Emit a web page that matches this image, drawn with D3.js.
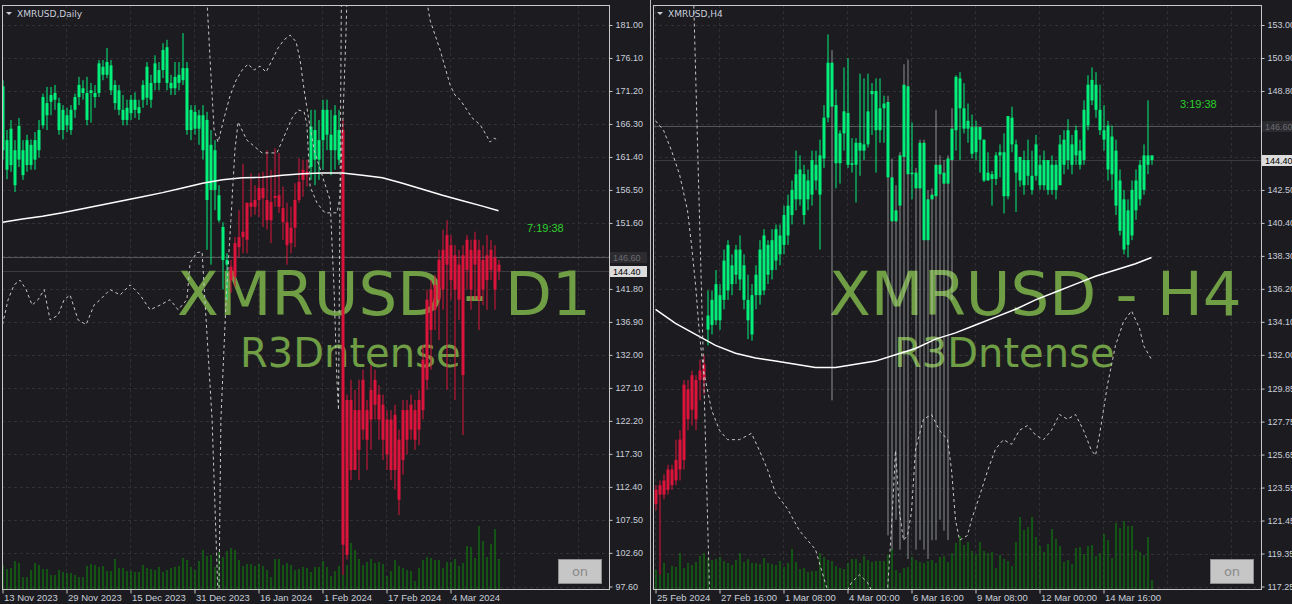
<!DOCTYPE html>
<html>
<head>
<meta charset="utf-8">
<script src="https://cdn.jsdelivr.net/npm/d3@7/dist/d3.min.js"></script>
<style>
body { margin: 0; background: #1c1c20; }
</style>
</head>
<body>
<svg id="chart" width="1292" height="604"></svg>
<script>
// ---- daily panel data ----
var dailyTitle = "XMRUSD,Daily";
var dailyDateLabels = ["13 Nov 2023", "29 Nov 2023", "15 Dec 2023", "31 Dec 2023", "16 Jan 2024", "1 Feb 2024", "17 Feb 2024", "4 Mar 2024"];
var dailyPriceTicks = [181.00, 176.10, 171.20, 166.30, 161.40, 156.50, 151.60, 146.70, 141.80, 136.90, 132.00, 127.10, 122.20, 117.30, 112.40, 107.50, 102.60, 97.60];
// [open, high, low, close]
var dailyOHLC = [
  [162.4,172.8,161.0,171.9],[163.9,165.4,158.1,159.5],[160.2,166.9,159.2,165.6],[162.4,163.9,156.2,157.2],[161.0,167.2,159.9,166.0],
  [162.4,163.9,158.0,158.7],[160.2,164.7,159.2,163.9],[163.2,164.0,159.5,160.2],[161.0,165.1,159.5,163.9],[162.4,166.9,161.3,165.4],
  [166.1,170.8,165.6,170.3],[167.6,171.8,165.4,169.4],[169.6,171.8,167.6,170.6],[169.9,172.1,168.4,170.9],[169.4,170.2,164.7,165.4],
  [165.4,169.1,164.0,168.4],[166.1,168.7,165.1,167.6],[168.4,169.1,164.7,165.4],[168.4,170.8,167.2,170.3],[170.3,173.3,169.1,172.1],
  [171.6,172.8,169.9,170.9],[170.9,173.3,166.1,166.9],[170.9,172.4,166.5,171.3],[170.3,172.1,168.7,170.9],[170.9,175.8,170.3,175.3],
  [174.8,175.8,172.8,173.6],[173.6,177.6,173.1,175.5],[175.0,175.8,170.6,171.3],[172.1,172.8,168.4,169.4],[171.3,172.1,167.6,168.4],
  [168.4,170.6,166.1,166.9],[166.9,169.9,166.1,168.7],[167.9,170.6,166.9,169.9],[169.9,171.0,167.2,168.4],[168.8,169.9,166.9,167.9],
  [169.9,172.8,168.7,172.1],[170.2,175.5,169.1,174.8],[172.4,173.6,168.7,169.9],[172.4,176.5,171.3,175.3],[174.3,175.5,171.3,172.4],
  [174.3,178.3,173.1,177.3],[177.7,178.8,171.3,172.4],[172.4,173.6,170.6,171.6],[171.6,175.5,170.6,173.3],[173.6,175.5,171.3,172.4],
  [172.8,179.8,172.1,174.6],[174.6,175.5,164.7,165.4],[165.4,169.1,163.9,168.4],[168.1,169.1,164.7,165.6],[165.6,168.4,163.2,167.6],
  [167.6,169.1,161.0,162.4],[166.9,168.1,147.6,155.0],[163.2,165.4,145.4,156.5],[156.5,163.9,153.5,162.4],[155.7,157.2,151.7,152.0],
  [151.0,151.7,141.7,146.1],[146.1,147.1,140.2,145.4],[145.1,146.1,141.2,143.1],[143.6,149.5,142.1,148.6],[148.0,153.5,146.5,149.5],
  [149.5,160.4,147.1,150.3],[149.1,154.6,147.1,154.6],[154.6,159.0,152.5,154.0],[154.0,157.2,152.8,155.0],[155.0,159.0,152.5,156.8],
  [156.8,159.2,151.0,155.3],[155.0,162.4,150.6,152.0],[152.0,159.5,148.6,154.7],[155.3,162.7,154.0,155.6],[155.7,162.0,153.1,154.0],
  [153.8,157.0,149.1,151.7],[151.7,154.6,145.4,148.3],[148.6,154.0,147.1,150.9],[150.9,157.5,148.0,155.0],[155.0,161.2,154.6,157.7],
  [158.0,161.0,155.5,159.5],[159.2,161.0,157.0,158.7],[159.9,168.4,158.0,165.9],[165.4,168.4,157.2,161.0],[161.0,166.9,158.0,163.9],
  [163.9,169.9,159.5,168.4],[168.4,169.9,162.4,164.7],[164.7,168.4,158.7,162.4],[162.4,169.1,159.5,167.6],[161.0,168.4,160.2,165.4],
  [165.4,166.9,99.3,103.8],[102.3,126.1,101.6,125.3],[125.3,128.3,113.4,114.9],[114.9,126.8,114.9,123.8],[123.8,128.3,113.4,117.9],
  [120.9,129.8,119.4,128.3],[123.8,125.3,114.9,119.4],[122.4,130.5,117.9,126.8],[124.6,129.8,122.4,128.3],[126.1,127.5,119.4,122.4],
  [124.6,126.1,116.4,119.4],[122.4,123.8,114.9,117.2],[114.9,123.8,113.4,122.4],[123.1,124.6,112.0,114.9],[119.4,120.9,108.2,110.5],
  [116.4,125.3,114.2,123.8],[123.8,125.3,117.2,119.4],[120.9,126.1,119.4,124.6],[123.8,125.3,117.9,119.4],[120.9,126.8,118.6,125.3],
  [123.8,133.5,122.4,131.3],[128.3,141.7,126.8,140.2],[135.7,143.1,129.8,141.7],[138.7,143.9,135.7,142.4],[140.2,147.6,134.2,146.1],
  [141.7,150.6,138.7,147.6],[145.4,152.0,126.8,149.8],[148.3,149.8,140.2,143.1],[146.8,148.3,125.3,141.7],[140.2,147.6,137.2,145.4],
  [146.8,148.3,120.1,129.0],[144.6,149.8,141.7,149.1],[147.6,149.1,138.7,141.7],[145.4,150.3,140.2,149.1],[147.6,149.1,135.7,140.2],
  [141.7,148.3,139.4,146.1],[146.8,149.8,138.7,143.1],[144.6,149.1,143.1,147.6],[146.5,148.3,138.7,141.7],[145.4,146.1,143.1,144.4]
];
var dailyRedRanges = [[57, 76], [85, 124]];
var dailyVolume = [
  24,20,21,28,26,12,12,19,26,24, 20,20,14,14,19,17,16,16,14,12, 12,23,25,24,22,23,18,18,30,21,
  21,18,18,17,17,24,21,20,19,22, 17,19,21,22,23,31,29,22,19,28, 39,33,34,22,37,32,38,41,39,29,
  23,25,25,23,25,23,19,12,30,30, 24,26,24,19,20,22,21,17,22,22, 28,22,13,18,23,14,24,46,39,30,
  24,27,30,26,27,25,13,18,29,23, 21,19,18,8,21,29,32,31,29,29, 21,27,27,30,23,26,43,42,31,63,
  48,32,45,60,30
];
var dailyMABars = [0,5,10,15,20,25,30,35,40,45,50,55,60,65,70,75,80,85,90,95,100,105,110,115,120,124];
var dailyMA = [151.7,152.2,152.6,153.1,153.7,154.3,154.9,155.5,156.1,156.8,157.5,158.0,158.3,158.4,158.7,158.9,159.0,159.0,158.7,158.3,157.5,156.6,155.7,154.9,154.1,153.4];
// dashed channel lines as [bar, price]
var dailyBand1 = [[0,136.5],[1.4,140.2],[2.9,142.4],[4.4,143.1],[5.9,141.7],[7.4,139.4],[8.9,140.2],[10.4,141.7],[11.9,137.2],[13.9,137.9],[15.4,140.2],[16.9,140.9],[18.9,137.2],[20.9,136.5],[22.9,139.4],[24.4,140.2],[26.9,141.7],[29.4,140.9],[31.9,142.4],[34.4,140.9],[36.9,138.7],[39.4,139.4],[41.9,140.2],[43.9,138.7],[46.1,140.2],[46.9,145.7],[48.6,147.2],[49.9,147.3],[50.6,140.2],[52.4,122.4],[53.9,95.6]];
var dailyBand2 = [[54.1,95.6],[54.6,122.4],[55.9,140.2],[57.1,152.0],[58.1,162.4],[58.9,166.6],[61.1,163.9],[64.9,162.0],[68.6,162.0],[71.1,165.4],[72.4,167.2],[73.9,168.4],[75.4,168.1],[76.1,166.2],[76.9,157.0],[78.6,154.6],[80.6,153.1],[83.6,153.1],[84.4,155.5],[85.1,166.9],[85.9,180.3],[86.4,192.1]];
var dailyBand3 = [[50.6,190.7],[51.9,175.8],[52.9,165.4],[53.9,163.6],[55.4,167.2],[56.9,170.5],[58.4,172.8],[59.9,174.3],[61.4,175.2],[62.9,174.3],[64.4,174.9],[65.9,174.0],[67.4,175.8],[68.9,177.6],[70.4,178.8],[71.9,179.5],[73.4,178.5],[74.4,175.8],[75.4,171.4],[76.4,167.6],[77.9,162.4],[79.9,158.7],[81.9,155.0],[82.9,141.6],[83.6,128.3],[84.0,123.8],[84.9,199.6]];
var dailyBand4 = [[105.6,186.2],[106.9,181.7],[109.4,177.3],[111.9,172.1],[113.1,170.6],[114.4,169.9],[116.1,168.4],[117.4,167.2],[119.4,166.2],[120.9,164.7],[121.9,163.6],[122.9,164.2],[123.9,163.9]];

// ---- H4 panel data ----
var h4Title = "XMRUSD,H4";
var h4DateLabels = ["25 Feb 2024", "27 Feb 16:00", "1 Mar 08:00", "4 Mar 00:00", "6 Mar 16:00", "9 Mar 08:00", "12 Mar 00:00", "14 Mar 16:00"];
var h4PriceTicks = [153.00, 150.90, 148.80, 146.70, 144.60, 142.50, 140.40, 138.30, 136.20, 134.10, 132.00, 129.85, 127.75, 125.65, 123.55, 121.45, 119.35, 117.25];
var h4OHLC = [
  [122.5,123.7,122.1,123.4],[123.1,124.0,118.0,123.7],[123.1,124.4,122.8,124.0],[123.4,125.0,123.1,124.7],[124.7,125.0,123.4,123.7],
  [124.0,126.6,123.7,125.3],[124.7,127.2,124.0,126.6],[125.3,130.4,124.7,130.1],[129.8,130.4,127.2,127.9],[128.5,131.0,127.5,130.7],
  [130.4,130.7,127.2,127.9],[130.4,131.7,129.1,131.0],[130.4,132.0,129.5,131.4],[133.6,136.1,132.6,134.5],[133.9,136.1,133.3,135.5],
  [134.2,137.4,133.9,136.5],[135.8,136.5,133.6,134.2],[135.5,138.7,134.9,138.0],[136.1,139.3,135.5,139.0],[137.7,138.4,135.8,136.5],
  [137.1,139.0,136.5,138.7],[138.7,139.6,136.1,136.8],[137.7,138.4,134.9,135.5],[135.5,137.1,133.0,134.2],[133.3,136.5,132.9,135.8],
  [135.8,137.7,134.9,137.1],[135.8,139.3,135.2,138.7],[136.1,140.0,135.8,139.6],[139.0,139.3,136.5,137.1],[137.4,140.0,136.8,139.3],
  [138.0,140.3,137.4,140.0],[139.6,140.3,137.7,138.4],[139.0,141.5,138.4,140.9],[139.6,142.2,139.0,141.5],[140.9,143.1,140.3,142.5],
  [141.9,145.0,141.2,143.5],[141.9,144.7,141.5,143.8],[143.5,144.1,140.3,140.9],[141.9,143.8,141.2,143.1],[142.2,145.0,141.5,144.4],
  [144.1,145.0,142.5,143.1],[142.2,145.7,138.7,144.7],[144.5,147.9,143.9,147.1],[147.1,152.4,146.8,150.6],[150.6,151.4,129.1,147.8],
  [147.9,148.9,142.6,144.2],[144.2,146.3,142.9,146.1],[146.1,150.3,145.0,147.5],[147.4,150.9,143.9,144.1],[144.1,145.8,143.6,144.2],
  [144.1,145.8,141.7,145.5],[145.5,149.9,143.4,145.0],[145.0,149.6,144.4,145.4],[145.4,149.9,145.2,147.5],[148.6,149.3,146.0,148.8],
  [148.8,149.6,143.6,146.3],[146.3,149.6,145.5,147.7],[147.7,148.5,145.5,148.0],[148.1,148.5,120.5,143.3],[143.3,144.5,119.6,140.5],
  [140.5,142.8,121.5,141.2],[141.5,144.9,119.6,144.7],[144.6,150.5,120.2,149.2],[149.1,150.8,119.0,143.5],[143.5,146.8,141.9,143.6],
  [143.6,143.9,119.6,142.6],[142.6,145.7,120.2,145.5],[145.5,145.7,119.6,139.3],[139.3,142.5,119.0,141.9],[141.9,142.6,120.2,142.2],
  [142.1,147.6,120.2,144.1],[144.1,144.7,121.5,143.5],[143.6,144.4,120.8,142.9],[142.9,144.7,120.2,144.5],[144.4,147.7,135.5,146.4],
  [146.3,149.8,145.0,149.7],[149.6,150.0,144.4,147.7],[147.7,149.3,146.1,146.4],[146.4,148.0,145.5,146.9],[146.5,147.3,144.5,144.8],
  [144.9,146.9,144.4,146.5],[146.5,146.5,143.6,145.7],[145.7,145.7,143.0,143.1],[143.1,144.9,143.1,143.6],[143.5,143.7,141.5,143.2],
  [143.2,144.9,142.8,144.7],[144.7,145.4,143.3,144.9],[144.9,146.1,141.0,142.1],[142.1,147.2,141.9,147.2],[147.1,147.8,144.9,145.4],
  [145.4,145.7,141.1,143.6],[143.1,144.6,142.7,144.6],[142.8,145.0,142.2,144.4],[144.4,145.7,142.8,143.4],[143.4,145.0,142.2,142.5],
  [143.4,146.0,143.1,145.4],[144.1,144.7,142.5,142.8],[142.8,145.0,142.5,144.4],[144.4,144.4,142.2,142.5],[142.5,144.7,142.2,144.1],
  [144.1,144.4,141.9,142.5],[142.8,146.0,142.8,145.4],[144.1,146.3,143.5,145.7],[144.4,147.0,143.8,146.3],[145.4,146.0,143.5,144.1],
  [144.7,146.6,144.1,146.3],[145.0,145.7,143.8,144.1],[144.4,148.2,144.1,147.6],[146.6,149.8,146.3,149.2],[148.2,150.3,147.9,149.5],
  [149.2,150.0,147.1,147.6],[147.6,149.2,146.0,146.3],[146.3,147.9,145.0,145.7],[146.6,146.9,143.1,143.8],[145.9,146.6,142.5,143.5],
  [145.0,145.7,140.9,141.5],[143.1,143.8,139.6,139.9],[141.9,142.5,138.4,138.7],[139.0,141.9,138.2,141.2],[139.6,143.1,139.3,142.5],
  [141.2,143.8,140.6,143.1],[141.9,144.4,141.5,144.1],[142.5,145.4,142.2,144.7],[144.1,148.2,143.5,144.7],[144.7,144.7,144.1,144.4]
];
var h4RedRanges = [[0, 12]];
// bars whose long wicks print in a pale tone
var h4PaleWicks = [44, 58, 59, 60, 61, 62, 63, 65, 66, 67, 68, 69, 70, 71, 72, 73, 74];
var h4Volume = [
  19,14,26,16,23,22,36,21,26,24, 27,33,36,31,29,30,32,28,26,24, 29,36,27,30,26,26,25,31,26,25,
  24,28,22,26,40,27,20,21,17,18, 18,36,32,29,28,23,21,20,26,30, 30,26,33,29,27,28,28,28,34,40,
  19,16,21,22,32,29,27,26,28,29, 26,32,33,27,36,46,53,44,47,38, 35,47,38,36,37,21,34,30,28,23,
  47,72,59,62,72,52,43,37,45,60, 50,43,27,29,25,41,42,35,43,44, 33,36,55,49,31,66,61,68,63,63,
  39,37,34,52,9
];
var h4MABars = [0,5,10,15,20,25,30,35,40,45,50,55,60,65,70,75,80,85,90,95,100,105,110,115,120,124];
var h4MA = [134.9,134.0,133.3,132.6,132.1,131.8,131.6,131.4,131.2,131.2,131.4,131.6,132.0,132.4,133.0,133.4,133.9,134.4,134.9,135.5,136.0,136.5,137.0,137.4,137.8,138.2];
var h4BandA = [[0,146.9],[2,146.3],[4,145.0],[6,143.5],[8,141.2],[9,139.0],[10,136.5],[11,133.3],[12,131.0],[14,128.5],[16,127.2],[18,126.6],[21,126.6],[24,127.0],[26,125.9],[28,124.7],[30,123.2],[33,122.2],[36,120.8],[38,120.2],[40,119.6],[43,117.0],[45,115],[47,116.5],[49,117.5],[51,118.0],[53,117.5],[55,116.5],[57,115],[58,117],[59,121],[60,125.9],[61,122.0],[62,120.2],[63,120.5],[64,122.0],[65,126.0],[67,127.9],[69,128.2],[71,127.2],[73,126.6],[74,124.7],[75,121.5],[76,120.2],[78,120.5],[79,121.5],[81,123.0],[83,124.6],[85,126.0],[87,126.6],[89,126.3],[91,127.2],[93,127.5],[95,126.9],[97,126.6],[99,127.2],[101,128.2],[103,127.9],[105,128.2],[107,127.2],[109,125.9],[110,125.6],[111,126.9],[113,130.1],[115,132.6],[117,134.1],[119,134.8],[121,133.7],[122,132.6],[124,131.7]];
var h4BandB = [[9.5,155],[13.5,117]];

var panels = [
  { name: "d1", title: dailyTitle, left: 2, right: 609, barX0: 2.5,
    dates: dailyDateLabels, ticks: dailyPriceTicks, ohlc: dailyOHLC, red: dailyRedRanges, pale: [],
    volume: dailyVolume, maBars: dailyMABars, ma: dailyMA,
    bands: [dailyBand1, dailyBand2, dailyBand3, dailyBand4],
    refPrice: 146.60, bid: 144.40, timer: "7:19:38", timerPrice: 150.9, timerX: 527,
    mark: "XMRUSD - D1", markX: 177, subX: 240 },
  { name: "h4", title: h4Title, left: 653, right: 1261, barX0: 655.5,
    dates: h4DateLabels, ticks: h4PriceTicks, ohlc: h4OHLC, red: h4RedRanges, pale: h4PaleWicks,
    volume: h4Volume, maBars: h4MABars, ma: h4MA,
    bands: [h4BandA, h4BandB],
    refPrice: 146.60, bid: 144.40, timer: "3:19:38", timerPrice: 148.0, timerX: 1180,
    mark: "XMRUSD - H4", markX: 829, subX: 894 }
];

var FONT = "Liberation Sans, Arial, sans-serif";
var WM_FONT = "DejaVu Sans, Verdana, sans-serif";

var svg = d3.select("#chart");
var plotTop = 5, plotBottom = 589;

svg.append("rect").attr("width", 1292).attr("height", 604).attr("fill", "#1c1c20");

panels.forEach(drawPanel);

// separator between the two charts
svg.append("line").attr("x1", 650.5).attr("x2", 650.5).attr("y1", 0).attr("y2", 604)
  .attr("stroke", "#bdbdbd").attr("stroke-width", 1);

function isRed(p, i) {
  return p.red.some(function(r) { return i >= r[0] && i <= r[1]; });
}

function drawPanel(p) {
  var g = svg.append("g");
  var x = d3.scaleLinear().domain([0, 144]).range([p.barX0, p.barX0 + 576]);
  var y = d3.scaleLinear().domain([p.ticks[0], p.ticks[p.ticks.length - 1]]).range([25, 586.5]);
  var v = d3.scaleLinear().domain([0, 100]).range([plotBottom, plotBottom - 100]);

  svg.append("clipPath").attr("id", "clip-" + p.name).append("rect")
    .attr("x", p.left).attr("y", plotTop).attr("width", p.right - p.left).attr("height", plotBottom - plotTop);

  // grid
  var grid = g.append("g").attr("stroke", "#303036").attr("stroke-dasharray", "3,3");
  grid.selectAll(".hg").data(p.ticks).enter().append("line")
    .attr("x1", p.left).attr("x2", p.right)
    .attr("y1", function(d) { return Math.round(y(d)) + 0.5; })
    .attr("y2", function(d) { return Math.round(y(d)) + 0.5; });
  grid.selectAll(".vg").data(d3.range(0, 145, 16)).enter().append("line")
    .attr("x1", function(d) { return x(d); }).attr("x2", function(d) { return x(d); })
    .attr("y1", plotTop).attr("y2", plotBottom);

  var plot = g.append("g").attr("clip-path", "url(#clip-" + p.name + ")");

  // reference and bid lines
  plot.append("line").attr("x1", p.left).attr("x2", p.right)
    .attr("y1", Math.round(y(p.refPrice)) + 0.5).attr("y2", Math.round(y(p.refPrice)) + 0.5)
    .attr("stroke", "#55555a");
  plot.append("line").attr("x1", p.left).attr("x2", p.right)
    .attr("y1", Math.round(y(p.bid)) + 0.5).attr("y2", Math.round(y(p.bid)) + 0.5)
    .attr("stroke", "#3a3a3f");

  // watermark
  plot.append("text").attr("x", p.markX).attr("y", 315)
    .attr("font-family", WM_FONT).attr("font-size", 61).attr("fill", "#6f9e45")
    .text(p.mark);
  plot.append("text").attr("x", p.subX).attr("y", 367)
    .attr("font-family", WM_FONT).attr("font-size", 40).attr("fill", "#6f9e45")
    .text("R3Dntense");

  // volume
  plot.selectAll(".vol").data(p.volume).enter().append("rect")
    .attr("x", function(d, i) { return x(i); })
    .attr("y", function(d) { return v(d); })
    .attr("width", 1)
    .attr("height", function(d) { return plotBottom - v(d); })
    .attr("fill", "#0b8c0b");

  // candles
  function col(i) { return isRed(p, i) ? "#dc143c" : "#00f07a"; }
  var c = plot.selectAll(".candle").data(p.ohlc).enter().append("g");
  c.append("line")
    .attr("x1", function(d, i) { return x(i) + 0.5; })
    .attr("x2", function(d, i) { return x(i) + 0.5; })
    .attr("y1", function(d) { return y(d[1]); })
    .attr("y2", function(d) { return y(d[2]); })
    .attr("stroke", function(d, i) { return p.pale.indexOf(i) >= 0 ? "#d6dcd6" : col(i); })
    .attr("stroke-opacity", function(d, i) { return p.pale.indexOf(i) >= 0 ? 0.6 : 1; });
  c.append("rect")
    .attr("x", function(d, i) { return x(i) - 1; })
    .attr("y", function(d) { return y(Math.max(d[0], d[3])); })
    .attr("width", 3)
    .attr("height", function(d) { return Math.max(1, Math.abs(y(d[0]) - y(d[3]))); })
    .attr("fill", function(d, i) { return col(i); });

  // moving average
  var maLine = d3.line().x(function(d, i) { return x(p.maBars[i]); }).y(function(d) { return y(d); });
  plot.append("path").attr("d", maLine(p.ma)).attr("fill", "none")
    .attr("stroke", "#ffffff").attr("stroke-width", 1.5);

  // dashed channel lines
  var bandLine = d3.line().x(function(d) { return x(d[0]); }).y(function(d) { return y(d[1]); });
  p.bands.forEach(function(b) {
    plot.append("path").attr("d", bandLine(b)).attr("fill", "none")
      .attr("stroke", "#c8c8c8").attr("stroke-dasharray", "3,3");
  });

  // timer text
  plot.append("text").attr("x", p.timerX).attr("y", y(p.timerPrice) + 4)
    .attr("font-family", FONT).attr("font-size", 11).attr("fill", "#2ccf2c").text(p.timer);

  // frame
  g.append("rect").attr("x", p.left + 0.5).attr("y", plotTop + 0.5)
    .attr("width", p.right - p.left).attr("height", plotBottom - plotTop)
    .attr("fill", "none").attr("stroke", "#c8c8c8");

  // price axis (labels sitting under a price box are left out, as the box hides them)
  function hidden(d) {
    return Math.abs(y(d) - y(p.refPrice)) < 9 || Math.abs(y(d) - y(p.bid)) < 9;
  }
  var ay = g.append("g").attr("transform", "translate(" + (p.right + 0.5) + ",0)")
    .call(d3.axisRight(y).tickValues(p.ticks).tickSize(3).tickPadding(3)
      .tickFormat(function(d) { return hidden(d) ? "" : d3.format(".2f")(d); }));
  ay.select(".domain").remove();
  ay.selectAll("line").attr("stroke", "#c8c8c8");
  ay.selectAll("text").attr("fill", "#c9ceda").attr("font-size", 9)
    .attr("font-family", FONT);

  // date axis
  var ax = g.append("g").attr("transform", "translate(0," + (plotBottom + 0.5) + ")")
    .call(d3.axisBottom(x).tickValues(d3.range(0, p.dates.length * 16, 16)).tickSize(4).tickPadding(1)
      .tickFormat(function(d, i) { return p.dates[i]; }));
  ax.select(".domain").remove();
  ax.selectAll("line").attr("stroke", "#c8c8c8");
  ax.selectAll("text").attr("fill", "#c9ceda").attr("font-size", 9.5)
    .attr("text-anchor", "start").attr("dx", 1).attr("font-family", FONT);

  // price boxes
  [[p.refPrice, "#2b2b30", "#6c6c70"], [p.bid, "#dcdcdc", "#000000"]].forEach(function(b) {
    var yy = Math.round(y(b[0]));
    g.append("rect").attr("x", p.right + 1).attr("y", yy - 5).attr("width", 37).attr("height", 11)
      .attr("fill", b[1]);
    g.append("text").attr("x", p.right + 4).attr("y", yy + 4).attr("font-size", 9)
      .attr("font-family", FONT).attr("fill", b[2]).text(d3.format(".2f")(b[0]));
  });

  // title
  g.append("path").attr("d", "M" + (p.left + 4) + ",12 h6 l-3,3 z").attr("fill", "#c9ceda");
  g.append("text").attr("x", p.left + 15).attr("y", 17).attr("font-size", 9)
    .attr("font-family", WM_FONT).attr("fill", "#c9ceda").text(p.title);

  // "on" button
  g.append("rect").attr("x", p.right - 50.5).attr("y", 559.5).attr("width", 43).attr("height", 24)
    .attr("fill", "#c6c6c6").attr("stroke", "#8e8e8e");
  g.append("text").attr("x", p.right - 29).attr("y", 576).attr("text-anchor", "middle")
    .attr("font-family", WM_FONT).attr("font-size", 13).attr("fill", "#8a8a8a").text("on");
}
</script>
</body>
</html>
